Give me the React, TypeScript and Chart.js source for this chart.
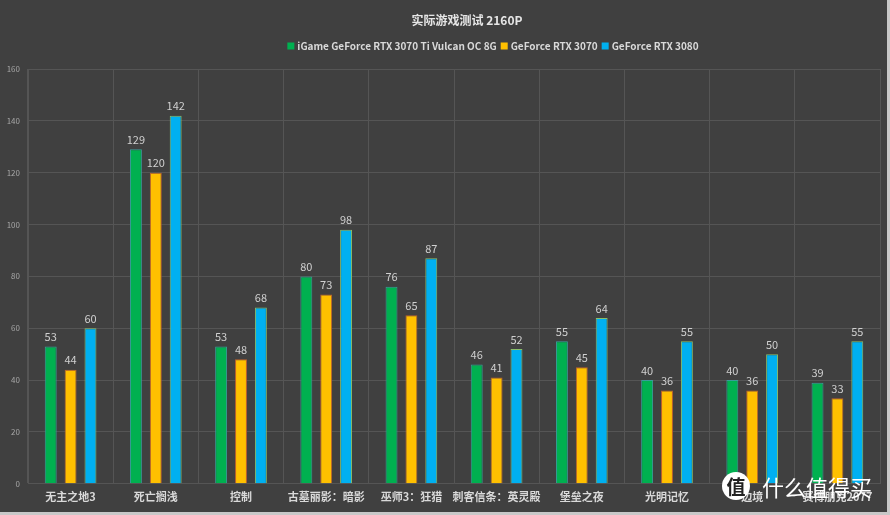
import React, { useEffect, useRef } from "react";
import { Chart, registerables } from "chart.js";

Chart.register(...registerables);

const titleText = "实际游戏测试 2160P";
const categories = [
  "无主之地3",
  "死亡搁浅",
  "控制",
  "古墓丽影：暗影",
  "巫师3：狂猎",
  "刺客信条：英灵殿",
  "堡垒之夜",
  "光明记忆",
  "边境",
  "赛博朋克2077",
];
const seriesNames = [
  "iGame GeForce RTX 3070 Ti Vulcan OC 8G",
  "GeForce RTX 3070",
  "GeForce RTX 3080",
];
const rtx3070tiValues = [53, 129, 53, 80, 76, 46, 55, 40, 40, 39];
const rtx3070Values = [44, 120, 48, 73, 65, 41, 45, 36, 36, 33];
const rtx3080Values = [60, 142, 68, 98, 87, 52, 64, 55, 50, 55];
const yTicks = [0, 20, 40, 60, 80, 100, 120, 140, 160];

const FONT = "'Noto Sans CJK SC', 'Noto Sans', sans-serif";

const valueLabels = {
  id: "valueLabels",
  afterDatasetsDraw(chart: any) {
    const ctx = chart.ctx;
    ctx.save();
    ctx.font = `11px ${FONT}`;
    ctx.fillStyle = "#d0d0d0";
    ctx.textAlign = "center";
    ctx.textBaseline = "bottom";
    chart.data.datasets.forEach((ds: any, i: number) => {
      const meta = chart.getDatasetMeta(i);
      meta.data.forEach((bar: any, j: number) => {
        ctx.fillText(String(ds.data[j]), bar.x, bar.y - 4);
      });
    });
    ctx.restore();
  },
};

// Title and legend drawn at fixed centres, as in the reference
const headerPlugin = {
  id: "header",
  afterDraw(chart: any) {
    const ctx = chart.ctx;
    ctx.save();
    ctx.font = `bold 12px ${FONT}`;
    ctx.fillStyle = "#e6e6e6";
    ctx.textAlign = "center";
    ctx.textBaseline = "middle";
    ctx.fillText(titleText, 467, 20);

    ctx.font = `bold 10px ${FONT}`;
    ctx.textAlign = "left";
    const box = 7;
    const gapBox = 3;
    const gapItem = 4;
    const items = chart.data.datasets.map((ds: any) => ({
      text: ds.label as string,
      color: ds.backgroundColor as string,
      w: ctx.measureText(ds.label).width,
    }));
    const total =
      items.reduce((s: number, it: any) => s + box + gapBox + it.w, 0) +
      gapItem * (items.length - 1);
    let x = 493 - total / 2;
    const y = 46;
    items.forEach((it: any) => {
      ctx.fillStyle = it.color;
      ctx.fillRect(x, y - box / 2, box, box);
      x += box + gapBox;
      ctx.fillStyle = "#d9d9d9";
      ctx.fillText(it.text, x, y);
      x += it.w + gapItem;
    });
    ctx.restore();
  },
};

export default function App() {
  const ref = useRef<HTMLCanvasElement>(null);
  useEffect(() => {
    document.body.style.margin = "0";
    const chart = new Chart(ref.current!, {
      type: "bar",
      data: {
        labels: categories,
        datasets: [
          {
            label: seriesNames[0],
            data: rtx3070tiValues,
            backgroundColor: "#00b050",
            borderColor: "#3a9c9a",
            borderWidth: 1,
          },
          {
            label: seriesNames[1],
            data: rtx3070Values,
            backgroundColor: "#ffc000",
            borderColor: "#c0622c",
            borderWidth: 1,
          },
          {
            label: seriesNames[2],
            data: rtx3080Values,
            backgroundColor: "#00b0f0",
            borderColor: "#8abf6a",
            borderWidth: 1,
          },
        ],
      },
      options: {
        animation: false,
        responsive: false,
        maintainAspectRatio: false,
        datasets: { bar: { categoryPercentage: 0.7, barPercentage: 0.6 } } as any,
        layout: { padding: { left: 0, right: 7, top: 69, bottom: 3 } },
        plugins: {
          title: { display: false },
          legend: { display: false },
          tooltip: { enabled: false },
        },
        scales: {
          x: {
            grid: { color: "#555555", offset: true, drawTicks: false },
            border: { color: "#555555" },
            ticks: {
              color: "#d9d9d9",
              font: { family: FONT, size: 11, weight: "bold" },
              padding: 6,
              maxRotation: 0,
              autoSkip: false,
            },
          },
          y: {
            min: 0,
            max: 160,
            afterFit: (s: any) => {
              s.width = 28;
            },
            afterBuildTicks: (s: any) => {
              s.ticks = yTicks.map((v) => ({ value: v }));
            },
            grid: { color: "#555555", drawTicks: false },
            border: { color: "#555555" },
            ticks: {
              color: "#a6a6a6",
              font: { family: FONT, size: 8 },
              padding: 8,
            },
          },
        },
      },
      plugins: [valueLabels, headerPlugin],
    });
    return () => chart.destroy();
  }, []);

  return (
    <div
      style={{
        position: "relative",
        width: 890,
        height: 515,
        background: "#c8c8c8",
        overflow: "hidden",
      }}
    >
      <div
        style={{
          position: "absolute",
          left: 0,
          top: 0,
          width: 887,
          height: 512,
          background: "#404040",
        }}
      >
        <canvas ref={ref} width={887} height={512} style={{ display: "block" }} />
      </div>
      <div
        style={{
          position: "absolute",
          left: 722,
          top: 472,
          width: 28,
          height: 28,
          borderRadius: "50%",
          background: "#ffffff",
          color: "#222",
          fontFamily: FONT,
          fontSize: 19,
          lineHeight: "28px",
          textAlign: "center",
          fontWeight: "bold",
        }}
      >
        值
      </div>
      <div
        style={{
          position: "absolute",
          left: 762,
          top: 472,
          color: "#ffffff",
          fontFamily: FONT,
          fontSize: 22,
          lineHeight: "28px",
          whiteSpace: "nowrap",
        }}
      >
        什么值得买
      </div>
    </div>
  );
}
